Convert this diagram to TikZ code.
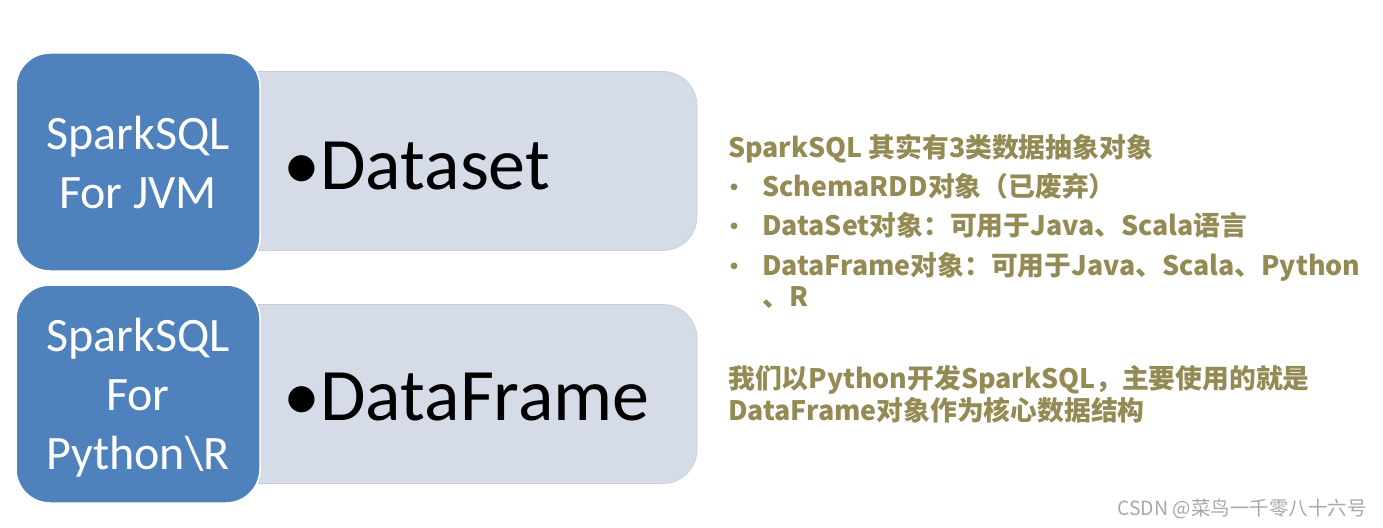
\documentclass[tikz,border=0pt]{standalone}
\usepackage{fontspec}
\setmainfont{Carlito}
\newfontfamily\cjk{Noto Sans CJK SC}
\usetikzlibrary{positioning}
\definecolor{CBlue}{HTML}{4F81BD}
\definecolor{CPale}{HTML}{D5DCE8}
\definecolor{COlive}{HTML}{948A54}
\definecolor{CMark}{HTML}{A8A8A8}

\begin{document}
\begin{tikzpicture}[x=1pt,y=-1pt,
  bluebox/.style={draw=white, line width=1.5pt, fill=CBlue, rounded corners=34pt,
    minimum width=244pt, minimum height=218pt, text=white, align=center,
    font=\fontsize{48}{59}\selectfont},
  palebox/.style={fill=CPale, draw=CPale!85!gray, line width=0.6pt, rounded corners=34pt,
    minimum width=500pt, minimum height=179pt},
  itemtext/.style={anchor=west, font=\fontsize{74}{80}\selectfont},
  note/.style={anchor=base west, text=COlive, font=\cjk\bfseries\fontsize{26.8}{32}\selectfont, inner sep=0pt},
  dot/.style={anchor=base, text=COlive, font=\cjk\bfseries\fontsize{24}{30}\selectfont, inner sep=0pt}]
  \useasboundingbox[fill=white] (0,0) rectangle (1383,527);

  % pale bars sit behind the blue boxes
  \node[palebox] (barjvm) at (447,161) {};
  \node[palebox] (barpy)  at (447,394) {};
  \node[bluebox] (jvm) at (138,162) {SparkSQL\\For JVM};
  \node[bluebox] (py)  at (138,394) {};
  \node[text=white, align=center, font=\fontsize{48}{59}\selectfont] (pytext) at (138,398)
    {SparkSQL\\For\\Python\textbackslash R};
  \node[itemtext] (ds) at (280,166) {•Dataset};
  \node[itemtext] (df) at (280,397) {•DataFrame};

  % notes on the right
  \node[note] (title) at (728,157) {SparkSQL 其实有3类数据抽象对象};
  \foreach \name/\yy/\txt in {rdd/196/{SchemaRDD对象（已废弃）},
      set/235/{DataSet对象：可用于Java、Scala语言},
      frame/275/{DataFrame对象：可用于Java、Scala、Python}}{
    \node[dot] (b\name) at (734,\yy) {•};
    \node[note] (\name) at (762,\yy) {\txt};
  }
  \node[note] (frametail) at (762,306) {、R};
  \node[note] (summary) at (728,388) {我们以Python开发SparkSQL，主要使用的就是};
  \node[note] (summarytail) at (728,420) {DataFrame对象作为核心数据结构};
  \node[anchor=base east, inner sep=0pt, text=CMark, font=\cjk\fontsize{19.5}{22}\selectfont] (mark) at (1367,515)
    {CSDN @菜鸟一千零八十六号};
\end{tikzpicture}
\end{document}
